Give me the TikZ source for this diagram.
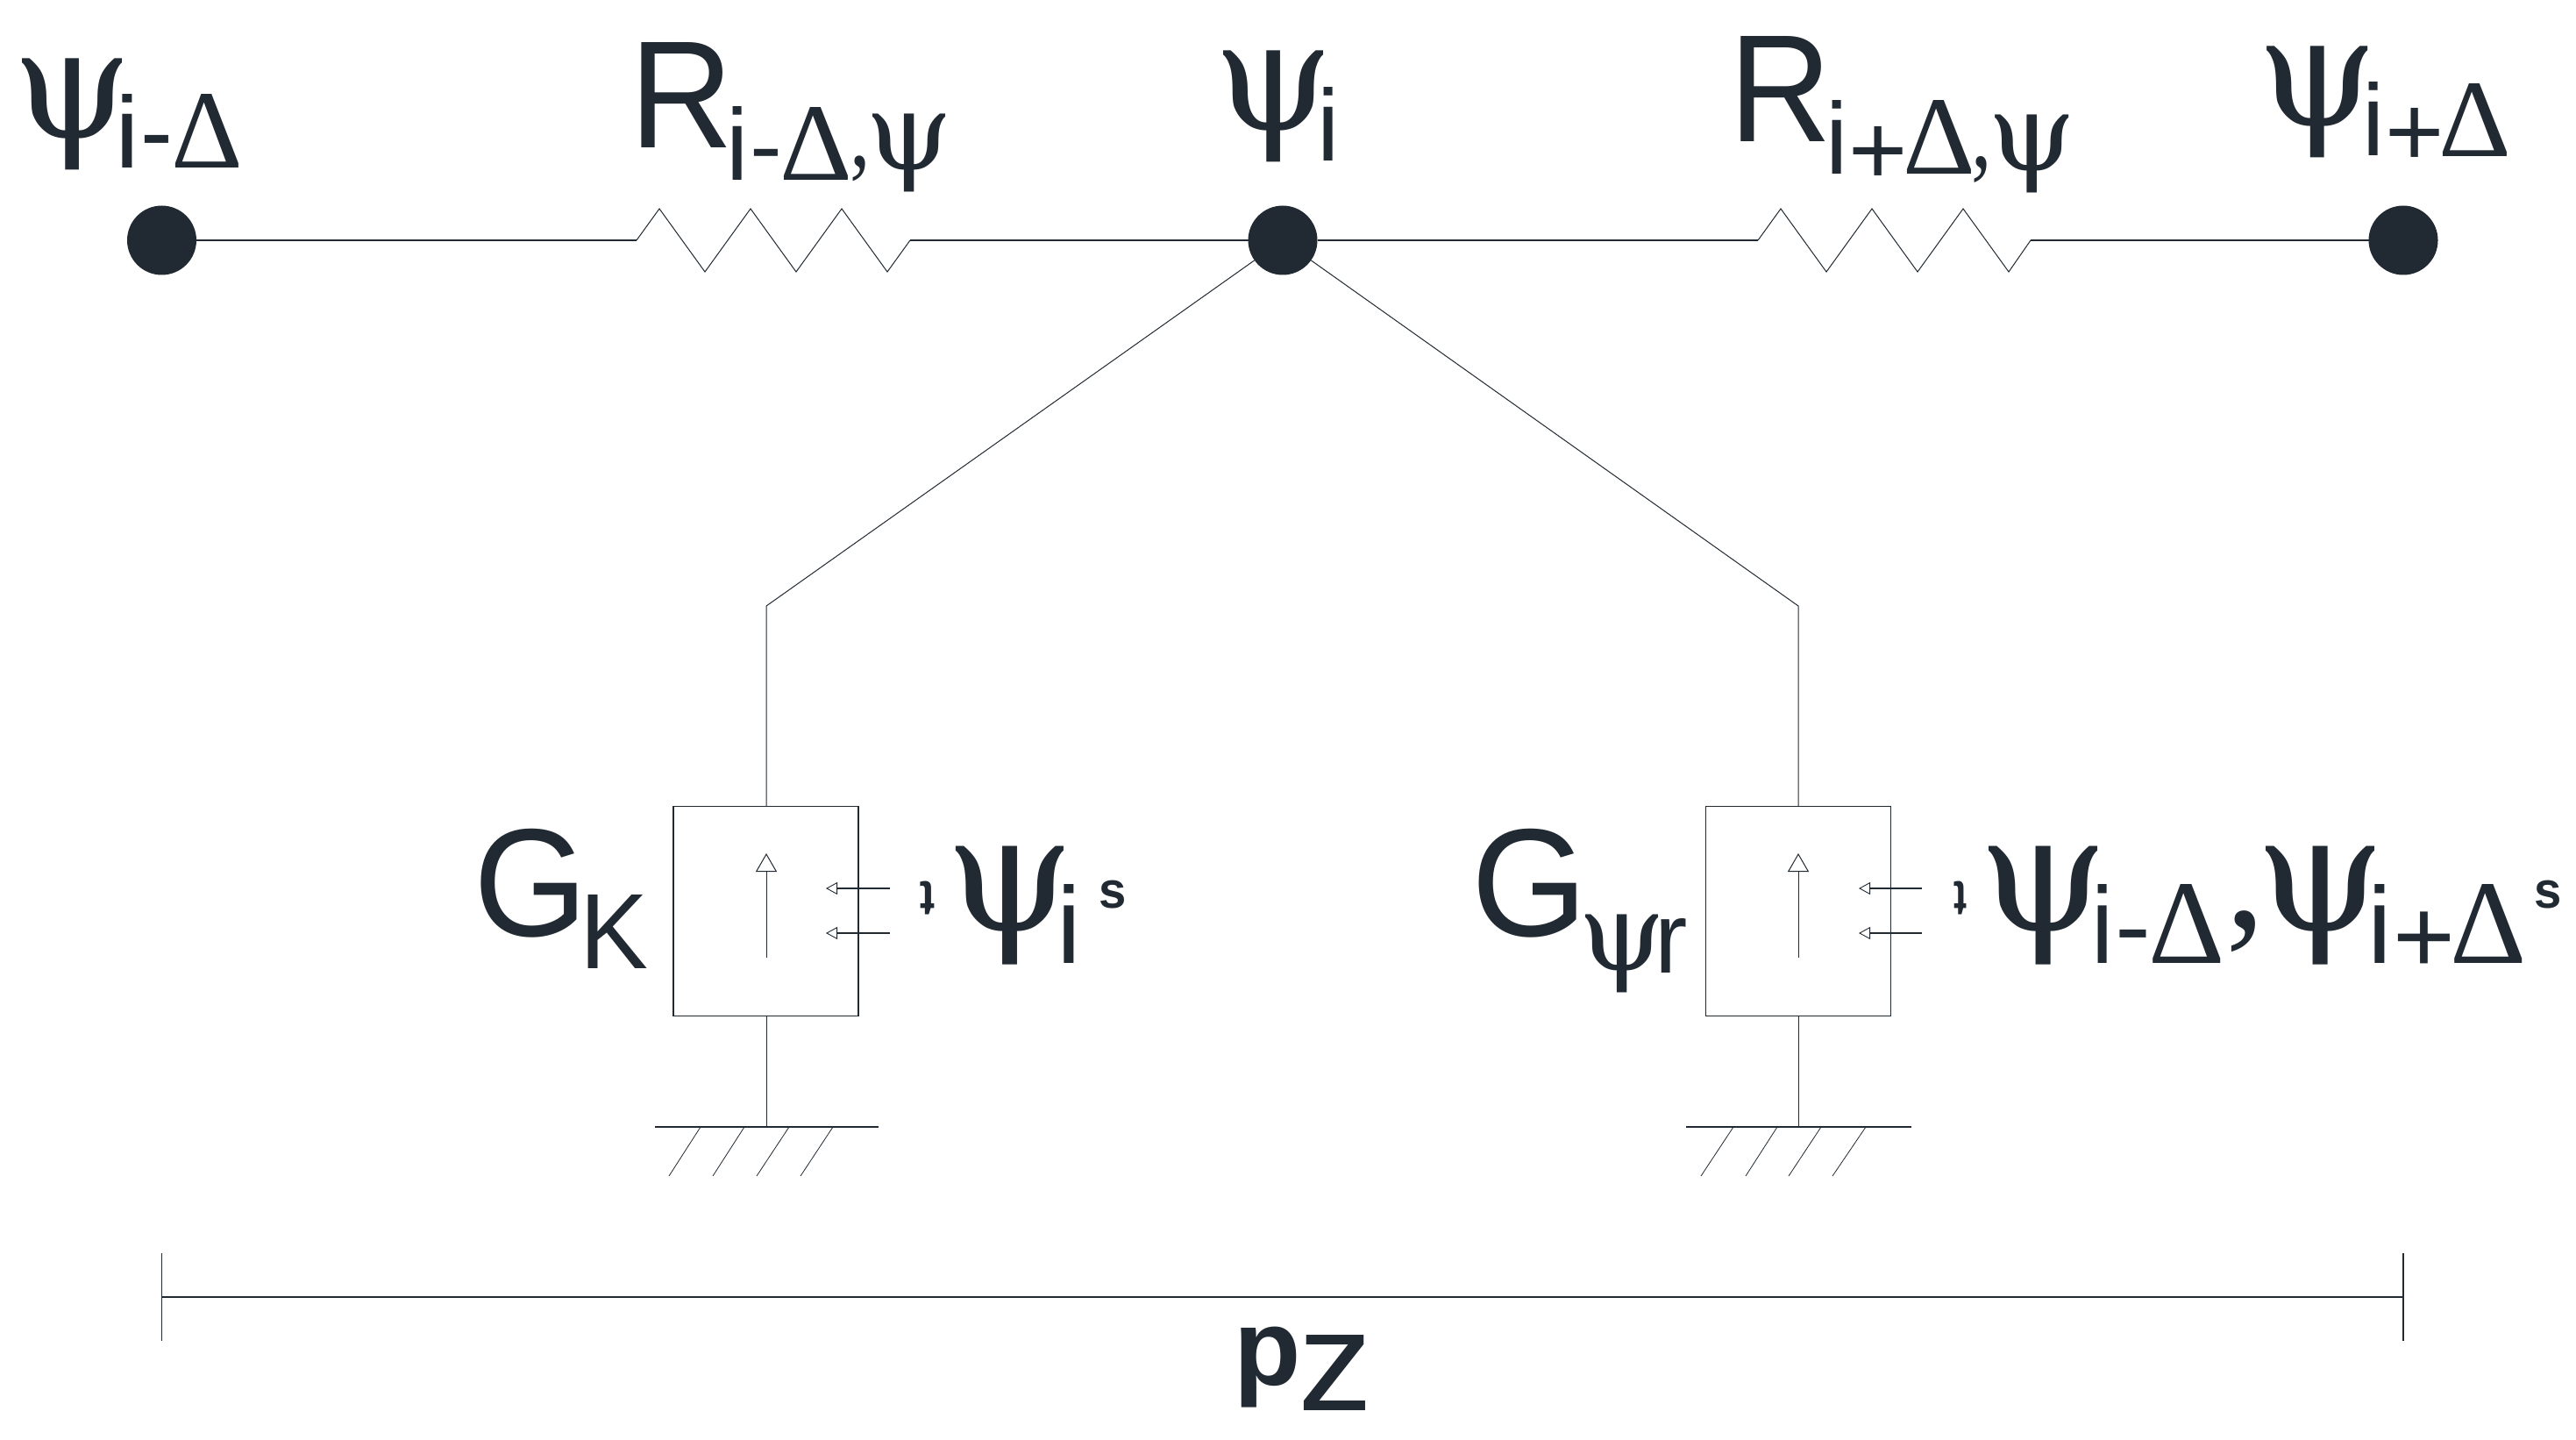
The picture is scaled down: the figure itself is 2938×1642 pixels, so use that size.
\documentclass[tikz,border=0pt]{standalone}
\usepackage{fontspec}
\usepackage{graphicx}
\usetikzlibrary{arrows.meta}
\setmainfont{Liberation Sans}
\newfontfamily\fsa{Liberation Sans}
\newfontfamily\fsr{Liberation Serif}
\newfontfamily\fsp{DejaVu Serif}
\definecolor{ink}{HTML}{212A32}
\newdimen\pxu \pxu=0.5pt
\newdimen\glx \newdimen\gly \newdimen\glw \newdimen\glh
\newcount\glg \newdimen\gll \newdimen\glr \newdimen\glt \newdimen\glb
\def\lx{0}\def\ly{0}
% a character in a box that is exactly its ink, resting on the baseline
\newcommand\ink[1]{\glg=\XeTeXcharglyph`#1\relax
  \gll=\XeTeXglyphbounds1 \glg
  \glt=\XeTeXglyphbounds2 \glg
  \glr=\XeTeXglyphbounds3 \glg
  \glb=\XeTeXglyphbounds4 \glg
  \setbox0=\hbox{\kern-\gll\raise\glb\hbox{#1}\kern-\glr}%
  \ht0=\dimexpr\glt+\glb\relax \dp0=0pt \box0 }
% one glyph of a label: ink box x0 y0 x1 y1 in picture pixels
\newcommand\gl[6]{\makebox[0pt][l]{\glx=\numexpr#1-\lx\relax\pxu
  \gly=\numexpr\ly-#4\relax\pxu
  \glw=\numexpr#3-#1\relax\pxu
  \glh=\numexpr#4-#2\relax\pxu
  \hspace*{\glx}\raisebox{\gly}{\resizebox{\glw}{\glh}{\raisebox{\depth}{#5\ink{#6}}}}}\ignorespaces}
\newcommand\glrot[5]{\makebox[0pt][l]{\glx=\numexpr#1-\lx\relax\pxu
  \gly=\numexpr\ly-#4\relax\pxu
  \glw=\numexpr#3-#1\relax\pxu
  \glh=\numexpr#4-#2\relax\pxu
  \hspace*{\glx}\raisebox{\gly}{\resizebox{\glw}{\glh}{\raisebox{\depth}{\rotatebox{180}{\gsb\ink{#5}}}}}}\ignorespaces}
\newcommand\lab[4]{\def\lx{#2}\def\ly{#3}\node[lbl] (#1) at (#2,#3) {#4};}
\newcommand\gsa{\fsa}
\newcommand\gsr{\fsr}
\newcommand\gsp{\fsp}
\newcommand\gsb{\fsa\bfseries}
\tikzset{
  lbl/.style={inner sep=0pt,outer sep=0pt,anchor=base,text=ink},
  wire/.style={draw=ink,line width=0.8pt},
  thinw/.style={draw=ink,line width=0.5pt},
  dotn/.style={circle,fill=ink,draw=none,inner sep=0pt,outer sep=0pt,minimum size=39.5pt},
  srcbox/.style={rectangle,draw=ink,line width=0.6pt,fill=none,inner sep=0pt,outer sep=0pt},
  upar/.style={thinw,-{Triangle[length=10.5pt,width=12pt,fill=white,line width=0.5pt]}},
  inar/.style={wire,-{Triangle[length=6.5pt,width=7pt,fill=white,line width=0.45pt]}},
}
\begin{document}
\begin{tikzpicture}[x=0.5pt,y=-0.5pt]
\useasboundingbox[fill=white] (0,0) rectangle (2938,1642);
% nodes
\node[dotn] (dA) at (184.5,274) {};
\node[dotn] (dB) at (1463,274) {};
\node[dotn] (dC) at (2741,274) {};
\node[srcbox,minimum width=105.5pt,minimum height=119.5pt] (bL) at (873.5,1038.8) {};
\node[srcbox,minimum width=105.5pt,minimum height=119.5pt] (bR) at (2051.2,1038.8) {};
% free points
\coordinate (rAi) at (726,274);\coordinate (rAo) at (1038,274);
\coordinate (rBi) at (2005,274);\coordinate (rBo) at (2316,274);
\coordinate (kL) at (874,691);\coordinate (kR) at (2051,691);
\coordinate (gL) at (874,1285);\coordinate (gR) at (2051,1285);
% horizontal chain with resistors
\draw[wire] (dA) -- (rAi);
\draw[thinw,line join=miter] (rAi) -- (752,238) -- (804,310) -- (856,238) -- (908,310) -- (960,238) -- (1012,310) -- (rAo);
\draw[wire] (rAo) -- (dB);
\draw[wire] (dB) -- (rBi);
\draw[thinw,line join=miter] (rBi) -- (2031,238) -- (2083,310) -- (2135,238) -- (2187,310) -- (2239,238) -- (2291,310) -- (rBo);
\draw[wire] (rBo) -- (dC);
% branches
\draw[thinw] (dB) -- (kL) -- (kL |- bL.north);
\draw[thinw] (dB) -- (kR) -- (kR |- bR.north);
\draw[thinw] (kL |- bL.south) -- (gL);
\draw[thinw] (kR |- bR.south) -- (gR);
% grounds
\draw[wire] (747,1285) -- (1002,1285);
\draw[wire] (1923,1285) -- (2180,1285);
\foreach \a/\b in {799/763,849/813,900/863,950/913,1977/1940,2027/1991,2077/2040,2128/2090}
  \draw[thinw,line width=0.4pt] (\a,1285) -- (\b,1341);
% source arrows
\draw[upar] (874,1092) -- (874,973);
\draw[upar] (2051,1092) -- (2051,973);
\draw[inar] (1015,1013) -- (942,1013);
\draw[inar] (1015,1064) -- (942,1064);
\draw[inar] (2192,1013) -- (2120,1013);
\draw[inar] (2192,1064) -- (2120,1064);
% dimension
\coordinate (mL) at (184.5,1479);\coordinate (mR) at (2741,1479);
\draw[wire] (mL) -- (mR);
\draw[wire,line width=0.7pt] (184.5,1429) -- (184.5,1529);
\draw[wire,line width=0.7pt] (2741,1429) -- (2741,1529);
% labels
\lab{lA}{25}{194}{\gl{25}{67}{139}{194}{\gsp}{ψ}\gl{140}{107}{151}{191}{\gsa}{i}\gl{165}{154}{192}{163}{\gsa}{-}\gl{200}{107}{272}{191}{\gsr}{Δ}}
\lab{lR}{732}{169}{\gl{732}{49}{829}{169}{\gsa}{R}\gl{836}{122}{846}{206}{\gsa}{i}\gl{860}{170}{887}{178}{\gsa}{-}\gl{894}{123}{967}{206}{\gsr}{Δ}\gl{973}{178}{987}{207}{\gsr}{,}\gl{996}{130}{1079}{219}{\gsp}{ψ}}
\lab{lB}{1395}{185}{\gl{1395}{58}{1509}{185}{\gsp}{ψ}\gl{1510}{99}{1520}{183}{\gsa}{i}}
\lab{lS}{1986}{162}{\gl{1986}{42}{2082}{162}{\gsa}{R}\gl{2090}{115}{2100}{199}{\gsa}{i}\gl{2114}{144}{2170}{200}{\gsa}{+}\gl{2175}{115}{2248}{199}{\gsr}{Δ}\gl{2252}{178}{2266}{208}{\gsr}{,}\gl{2276}{131}{2360}{220}{\gsp}{ψ}}
\lab{lC}{2586}{180}{\gl{2586}{53}{2701}{180}{\gsp}{ψ}\gl{2702}{94}{2712}{178}{\gsa}{i}\gl{2726}{123}{2782}{179}{\gsa}{+}\gl{2786}{95}{2859}{178}{\gsr}{Δ}}
\lab{lG}{549}{1069}{\gl{549}{945}{658}{1069}{\gsa}{G}\gl{671}{1020}{738}{1104}{\gsa}{K}}
\lab{lF}{1050}{1100}{\glrot{1050}{1005}{1066}{1043}{t}\gl{1090}{965}{1213}{1100}{\gsp}{ψ}\gl{1214}{1008}{1225}{1098}{\gsa}{i}\gl{1255}{1004}{1282}{1036}{\gsb}{s}}
\lab{lH}{1687}{1069}{\gl{1687}{945}{1798}{1069}{\gsa}{G}\gl{1808}{1043}{1891}{1132}{\gsp}{ψ}\gl{1895}{1047}{1923}{1109}{\gsa}{r}}
\lab{lJ}{2229}{1100}{\glrot{2229}{1005}{2243}{1043}{t}\gl{2268}{965}{2392}{1100}{\gsp}{ψ}\gl{2393}{1008}{2403}{1098}{\gsa}{i}\gl{2418}{1060}{2448}{1069}{\gsa}{-}\gl{2456}{1008}{2533}{1098}{\gsr}{Δ}\gl{2545}{1039}{2572}{1086}{\gsr}{,}\gl{2584}{965}{2708}{1100}{\gsp}{ψ}\gl{2709}{1008}{2720}{1098}{\gsa}{i}\gl{2735}{1040}{2794}{1099}{\gsa}{+}\gl{2800}{1008}{2877}{1098}{\gsr}{Δ}\gl{2892}{1004}{2919}{1036}{\gsb}{s}}
\lab{lZ}{1416}{1605}{\gl{1416}{1513}{1479}{1605}{\gsb}{p}\gl{1487}{1522}{1557}{1608}{\gsa}{z}}
\end{tikzpicture}
\end{document}
